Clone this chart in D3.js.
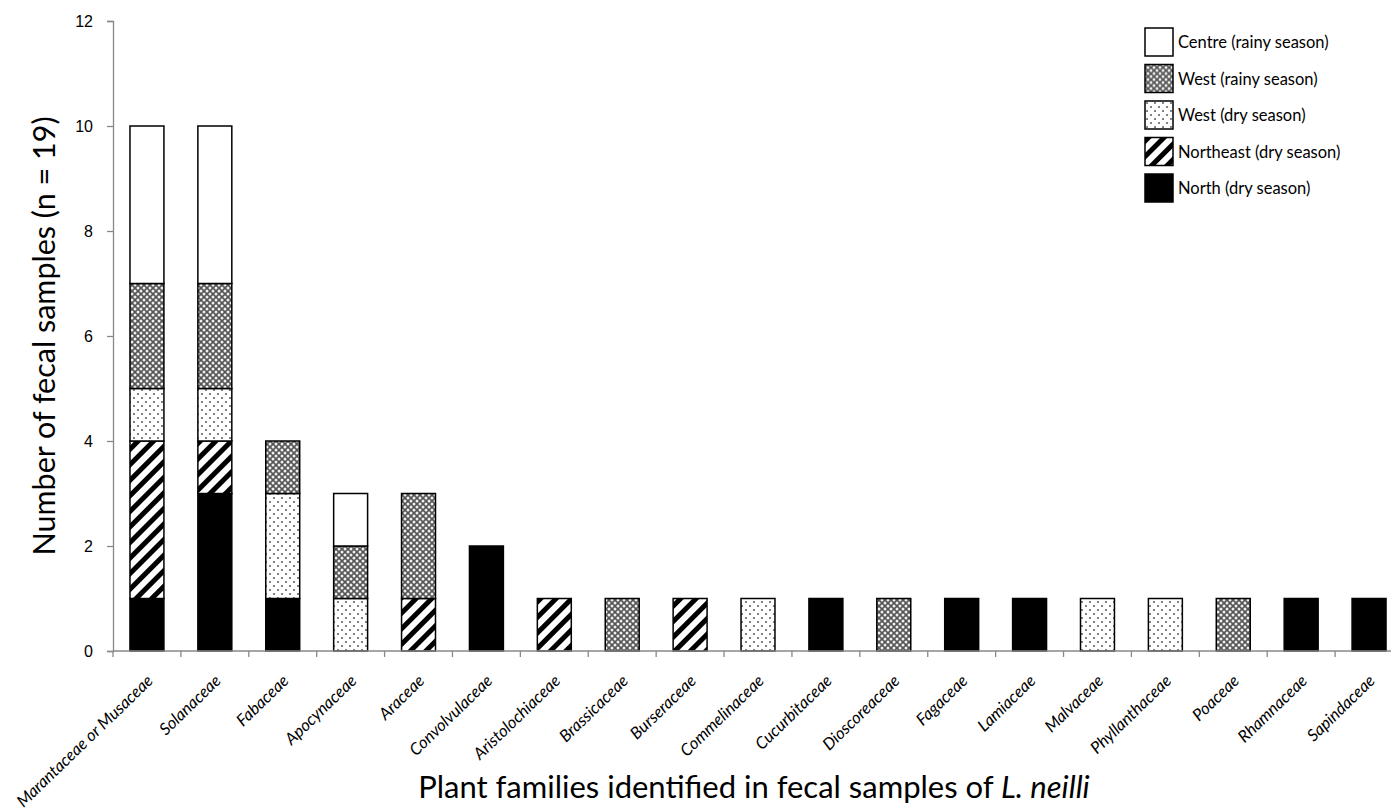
<!DOCTYPE html>
<html>
<head>
<meta charset="utf-8">
<script src="https://cdn.jsdelivr.net/npm/d3@7"></script>
<style>
  body { margin: 0; background: #fff; }
  svg { display: block; font-family: Lato, "Open Sans", sans-serif; }
</style>
</head>
<body>
<div id="chart"></div>
<script>
const families = ['Marantaceae or Musaceae', 'Solanaceae', 'Fabaceae', 'Apocynaceae', 'Araceae',
  'Convolvulaceae', 'Aristolochiaceae', 'Brassicaceae', 'Burseraceae', 'Commelinaceae',
  'Cucurbitaceae', 'Dioscoreaceae', 'Fagaceae', 'Lamiaceae', 'Malvaceae', 'Phyllanthaceae',
  'Poaceae', 'Rhamnaceae', 'Sapindaceae'];

// stacked from bottom to top
const north     = [1, 3, 1, 0, 0, 2, 0, 0, 0, 0, 1, 0, 1, 1, 0, 0, 0, 1, 1];
const northeast = [3, 1, 0, 0, 1, 0, 1, 0, 1, 0, 0, 0, 0, 0, 0, 0, 0, 0, 0];
const westDry   = [1, 1, 2, 1, 0, 0, 0, 0, 0, 1, 0, 0, 0, 0, 1, 1, 0, 0, 0];
const westRainy = [2, 2, 1, 1, 2, 0, 0, 1, 0, 0, 0, 1, 0, 0, 0, 0, 1, 0, 0];
const centre    = [3, 3, 0, 1, 0, 0, 0, 0, 0, 0, 0, 0, 0, 0, 0, 0, 0, 0, 0];

const seriesKeys = ['north', 'northeast', 'westDry', 'westRainy', 'centre'];
const seriesLabels = {
  centre: 'Centre (rainy season)',
  westRainy: 'West (rainy season)',
  westDry: 'West (dry season)',
  northeast: 'Northeast (dry season)',
  north: 'North (dry season)',
};
const legendOrder = ['centre', 'westRainy', 'westDry', 'northeast', 'north'];
const yTicks = [0, 2, 4, 6, 8, 10, 12];

const table = families.map((f, i) => ({
  family: f, north: north[i], northeast: northeast[i], westDry: westDry[i],
  westRainy: westRainy[i], centre: centre[i],
}));

const width = 1391, height = 811;
const margin = { top: 21, right: -12, bottom: 160, left: 113 };

const svg = d3.select('#chart').append('svg')
  .attr('width', width).attr('height', height);

// --- motifs de remplissage ---
const defs = svg.append('defs');

const cross = defs.append('pattern').attr('id', 'p-westRainy')
  .attr('patternUnits', 'userSpaceOnUse').attr('width', 6).attr('height', 6);
cross.append('rect').attr('width', 6).attr('height', 6).attr('fill', '#555');
for (const [cx, cy] of [[0, 0], [6, 0], [0, 6], [6, 6], [3, 3]]) {
  cross.append('circle').attr('cx', cx).attr('cy', cy).attr('r', 1.5).attr('fill', '#eee');
}

const dots = defs.append('pattern').attr('id', 'p-westDry')
  .attr('patternUnits', 'userSpaceOnUse').attr('width', 8).attr('height', 8);
dots.append('rect').attr('width', 8).attr('height', 8).attr('fill', '#fff');
dots.append('circle').attr('cx', 2).attr('cy', 2).attr('r', 1.1).attr('fill', '#666');
dots.append('circle').attr('cx', 6).attr('cy', 6).attr('r', 1.1).attr('fill', '#666');

const stripes = defs.append('pattern').attr('id', 'p-northeast')
  .attr('patternUnits', 'userSpaceOnUse').attr('width', 11).attr('height', 11)
  .attr('patternTransform', 'rotate(45)');
stripes.append('rect').attr('width', 11).attr('height', 11).attr('fill', '#fff');
stripes.append('rect').attr('width', 5).attr('height', 11).attr('fill', '#000');

const fills = {
  centre: '#fff',
  westRainy: 'url(#p-westRainy)',
  westDry: 'url(#p-westDry)',
  northeast: 'url(#p-northeast)',
  north: '#000',
};

const x = d3.scaleBand().domain(families)
  .range([margin.left, width - margin.right]).paddingInner(0.5).paddingOuter(0.25);
const y = d3.scaleLinear().domain([0, 12]).range([height - margin.bottom, margin.top]);

// --- axes ---
const yAxis = svg.append('g').attr('transform', `translate(${margin.left},0)`)
  .call(d3.axisLeft(y).tickValues(yTicks).tickSize(6).tickPadding(14));
yAxis.selectAll('.tick text').attr('font-size', 16).attr('fill', '#000');

const stack = d3.stack().keys(seriesKeys)(table);

svg.append('g').selectAll('g')
  .data(stack)
  .join('g')
  .attr('fill', s => fills[s.key])
  .selectAll('rect')
  .data(s => s.filter(d => d[1] > d[0]))
  .join('rect')
  .attr('x', d => x(d.data.family))
  .attr('y', d => y(d[1]))
  .attr('width', x.bandwidth())
  .attr('height', d => y(d[0]) - y(d[1]))
  .attr('stroke', '#000')
  .attr('stroke-width', 1.5);

const step = x.step();
const xAxisG = svg.append('g').attr('transform', `translate(0,${y(0)})`);
xAxisG.append('line')
  .attr('x1', margin.left).attr('x2', width - margin.right)
  .attr('stroke', '#888').attr('stroke-width', 1.3);
xAxisG.selectAll('line.tk')
  .data(d3.range(families.length + 1))
  .join('line').attr('class', 'tk')
  .attr('x1', i => margin.left + i * step).attr('x2', i => margin.left + i * step)
  .attr('y1', 0).attr('y2', 6)
  .attr('stroke', '#888').attr('stroke-width', 1.3);
xAxisG.selectAll('text')
  .data(families)
  .join('text')
  .attr('transform', d => `translate(${x(d) + x.bandwidth() / 2 + 7},31) rotate(-44)`)
  .attr('text-anchor', 'end')
  .attr('font-size', 16.5)
  .attr('font-style', 'italic')
  .text(d => d);

yAxis.select('.domain').attr('stroke', '#888').attr('stroke-width', 1.3);
yAxis.selectAll('.tick line').attr('stroke', '#888').attr('stroke-width', 1.3);

// --- titres d'axes ---
svg.append('text')
  .attr('transform', `translate(55,${(y(0) + y(12)) / 2}) rotate(-90)`)
  .attr('text-anchor', 'middle')
  .attr('font-size', 30.5)
  .text('Number of fecal samples (n = 19)');

const xt = svg.append('text')
  .attr('x', 754).attr('y', 798)
  .attr('text-anchor', 'middle')
  .attr('font-size', 31);
xt.append('tspan').text('Plant families identified in fecal samples of ');
xt.append('tspan').attr('font-style', 'italic').text('L. neilli');

// --- légende ---
const legend = svg.append('g').attr('transform', 'translate(1145,28)');
const item = legend.selectAll('g')
  .data(legendOrder)
  .join('g')
  .attr('transform', (d, i) => `translate(0,${i * 36.5})`);
item.append('rect')
  .attr('width', 28).attr('height', 28)
  .attr('fill', d => fills[d])
  .attr('stroke', '#000').attr('stroke-width', 1.5);
item.append('text')
  .attr('x', 33).attr('y', 20)
  .attr('font-size', 16.5)
  .text(d => seriesLabels[d]);
</script>
</body>
</html>
